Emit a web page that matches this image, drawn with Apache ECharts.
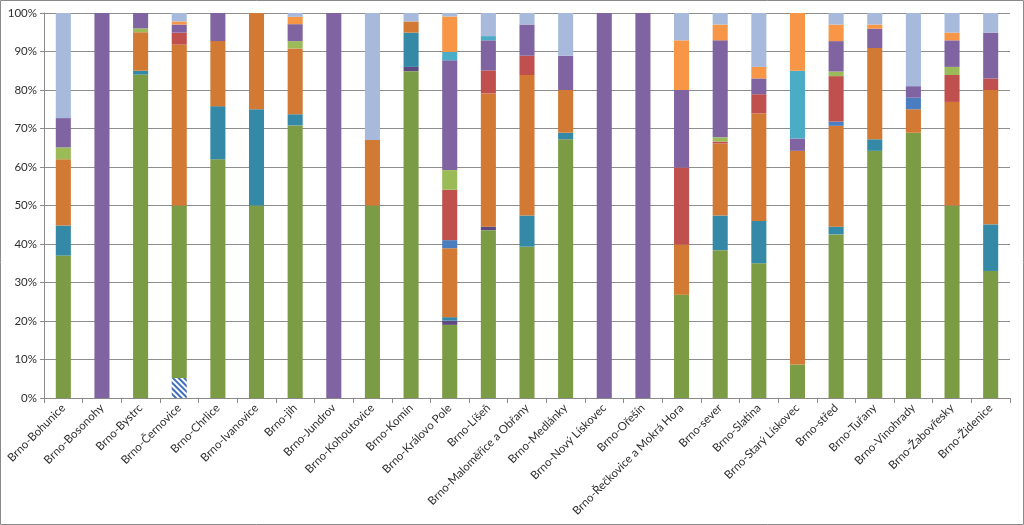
<!DOCTYPE html>
<html>
<head>
<meta charset="utf-8">
<script src="https://cdn.jsdelivr.net/npm/echarts@6/dist/echarts.min.js"></script>
<style>
html,body{margin:0;padding:0;background:#fff;}
#c{width:1024px;height:525px;}
</style>
</head>
<body>
<div id="c"></div>
<script>
const categories = ["Brno-Bohunice","Brno-Bosonohy","Brno-Bystrc","Brno-Černovice","Brno-Chrlice","Brno-Ivanovice","Brno-jih","Brno-Jundrov","Brno-Kohoutovice","Brno-Komín","Brno-Královo Pole","Brno-Líšeň","Brno-Maloměřice a Obřany","Brno-Medlánky","Brno-Nový Lískovec","Brno-Ořešín","Brno-Řečkovice a Mokrá Hora","Brno-sever","Brno-Slatina","Brno-Starý Lískovec","Brno-střed","Brno-Tuřany","Brno-Vinohrady","Brno-Žabovřesky","Brno-Židenice"];
const yTicks = [0,10,20,30,40,50,60,70,80,90,100];

// segment shares (%) per category, bottom to top
const sHatch      = [0,0,0,5.2,0,0,0,0,0,0,0,0,0,0,0,0,0,0,0,0,0,0,0,0,0];
const sGreen      = [37,0,84,44.8,62,50,70.8,0,50,84.9,19,43.6,39.3,67.2,0,0,26.8,38.4,35,8.7,42.5,64.2,68.9,50,33];
const sDarkPurple = [0,0,0,0,0,0,0,0,0,1.1,1.1,0.9,0,0,0,0,0,0,0,0,0,0,0,0,0];
const sTeal       = [7.8,0,1,0,13.8,25,2.9,0,0,8.9,0.9,0,8.1,1.7,0,0,0,9,11,0,2,3,0,0,12.1];
const sOrange     = [17.2,0,10,41.8,16.9,25,17.1,0,17,2.9,17.9,34.6,36.5,11.1,0,0,13.1,18.7,27.9,55.5,26.2,23.7,6.1,26.9,34.9];
const sBlue       = [0,0,0,0,0,0,0,0,0,0,2.1,0,0,0,0,0,0,0,0,0,1.1,0,3,0,0];
const sRed        = [0,0,0,3.1,0,0,0,0,0,0,13.1,6,5,0,0,0,20,0.5,5,0,11.8,0,0,7,3];
const sLightGreen = [3.1,0,1,0,0,0,1.9,0,0,0,5.1,0,0,0,0,0,0,1.1,0,0,1.2,0,0,2.1,0];
const sPurple     = [7.6,100,4,2.1,7.3,0,4.4,100,0,0,28.5,7.8,8.1,8.9,100,100,20.1,25.2,4.1,3.2,7.9,5,3,6.9,11.9];
const sCyan       = [0,0,0,0,0,0,0,0,0,0,2.2,1.1,0,0,0,0,0,0,0,17.6,0,0,0,0,0];
const sLightOrange= [0,0,0,0.8,0,0,1.9,0,0,0,9.2,0,0,0,0,0,12.9,4.1,3,15,4.3,1.1,0,2,0];
const sLightBlue  = [27.3,0,0,2.2,0,0,1,0,33,2.2,0.9,6,3,11.1,0,0,7.1,3,14,0,3,3,19,5.1,5.1];

const seriesDefs = [
  {name:"Řada 1", data:sHatch, color:"#ffffff", decal:true},
  {name:"Řada 2", data:sGreen, color:"#7C9B45"},
  {name:"Řada 3", data:sDarkPurple, color:"#5E4A80"},
  {name:"Řada 4", data:sTeal, color:"#3489A6"},
  {name:"Řada 5", data:sOrange, color:"#D27A34"},
  {name:"Řada 6", data:sBlue, color:"#4A7EC0"},
  {name:"Řada 7", data:sRed, color:"#C0504D"},
  {name:"Řada 8", data:sLightGreen, color:"#9BBB59"},
  {name:"Řada 9", data:sPurple, color:"#8064A2"},
  {name:"Řada 10", data:sCyan, color:"#4BACC6"},
  {name:"Řada 11", data:sLightOrange, color:"#F79646"},
  {name:"Řada 12", data:sLightBlue, color:"#A7BADB"}
];

const chart = echarts.init(document.getElementById('c'), null, {renderer:'canvas'});
const fontFamily = 'Lato, "Liberation Sans", sans-serif';
const option = {
  animation:false,
  backgroundColor:'#fff',
  graphic:[{type:'rect', shape:{x:0.5,y:0.5,width:1023,height:524}, style:{fill:'none', stroke:'#8a8a8a', lineWidth:1}, silent:true}],
  grid:{left:44, right:14, top:13, bottom:127, containLabel:false},
  xAxis:{
    type:'category', data:categories, boundaryGap:true,
    axisLine:{show:true, lineStyle:{color:'#8a8a8a', width:1}},
    axisTick:{show:true, length:5, lineStyle:{color:'#8a8a8a'}},
    axisLabel:{rotate:45, interval:0, fontSize:11.5, color:'#2e2e2e', fontFamily:fontFamily, margin:8}
  },
  yAxis:{
    type:'value', min:0, max:100, interval:10,
    axisLine:{show:true, lineStyle:{color:'#8a8a8a', width:1}},
    axisTick:{show:true, length:4, lineStyle:{color:'#8a8a8a'}},
    splitLine:{show:true, lineStyle:{color:'#8e8e8e', width:1}},
    axisLabel:{formatter: v => yTicks.includes(v) ? v + '%' : '', fontSize:11.5, color:'#2e2e2e', fontFamily:fontFamily, margin:7}
  },
  series: seriesDefs.map(s => ({
    name:s.name, type:'bar', stack:'all', barWidth:'39%',
    data:s.data,
    itemStyle: s.decal ? {color:s.color, decal:{symbol:'rect', symbolSize:1, dashArrayX:[1,0], dashArrayY:[2,2], rotation:Math.PI/4, color:'#3F6FB8'}} : {color:s.color},
    emphasis:{disabled:true}
  }))
};
chart.setOption(option);
</script>
</body>
</html>
